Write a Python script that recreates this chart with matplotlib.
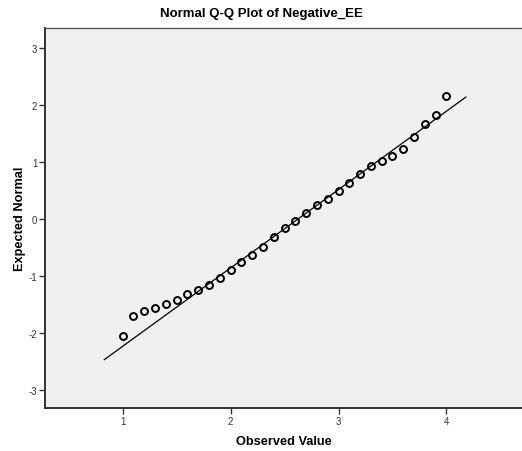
import matplotlib
matplotlib.use("Agg")
import matplotlib.pyplot as plt
import numpy as np

plt.rcParams['font.family'] = ['Liberation Sans', 'DejaVu Sans']
plt.rcParams['axes.unicode_minus'] = False

# observed scale scores and their expected normal quantiles
observed = [1.0, 1.1, 1.2, 1.3, 1.4, 1.5, 1.6, 1.7, 1.8, 1.9,
            2.0, 2.1, 2.2, 2.3, 2.4, 2.5, 2.6, 2.7, 2.8, 2.9,
            3.0, 3.1, 3.2, 3.3, 3.4, 3.5, 3.6, 3.7, 3.8, 3.9, 4.0]
expected = [-2.06, -1.71, -1.61, -1.56, -1.49, -1.42, -1.32, -1.25, -1.16, -1.04,
            -0.89, -0.75, -0.64, -0.49, -0.32, -0.16, -0.035, 0.11, 0.245, 0.345,
            0.49, 0.63, 0.78, 0.92, 1.01, 1.10, 1.23, 1.44, 1.67, 1.82, 2.15]

# reference line from the sample mean / sd
line_mean = 2.626
line_sd = 0.727
line_x = [0.83, 4.18]

x_ticks = [1, 2, 3, 4]
y_ticks = [-3, -2, -1, 0, 1, 2, 3]

fig = plt.figure(figsize=(5.22, 4.52), dpi=100)
ax = fig.add_axes([45 / 522, 1 - 409 / 452, 1 - 45 / 522, (409 - 29) / 452])
ax.set_facecolor('#f0f0f0')

lx = np.array(line_x)
ax.plot(lx, (lx - line_mean) / line_sd, color='black', lw=0.9, zorder=2)
ax.plot(observed, expected, linestyle='none', marker='o', markersize=5,
        markerfacecolor='none', markeredgecolor='black', markeredgewidth=1.4, zorder=3)

ax.set_xlim(0.28, 4.70)
ax.set_ylim(-3.32, 3.35)
ax.set_xticks(x_ticks)
ax.set_yticks(y_ticks)
ax.tick_params(axis='both', direction='out', length=4, width=1, color='#333333',
               labelsize=7, labelcolor='#333333', pad=1.5)

for side in ['left', 'bottom']:
    ax.spines[side].set_linewidth(1.4)
    ax.spines[side].set_color('#333333')
ax.spines['top'].set_linewidth(1.0)
ax.spines['top'].set_color('#555555')
ax.spines['right'].set_visible(False)

fig.text(0.5, 1 - 14 / 452, 'Normal Q-Q Plot of Negative_EE', fontsize=9.5,
         fontweight='bold', ha='center', va='center')
ax.set_xlabel('Observed Value', fontsize=9.2, fontweight='bold', labelpad=7)
ax.set_ylabel('Expected Normal', fontsize=9.2, fontweight='bold', labelpad=2)

fig.savefig('out.png', dpi=100)
